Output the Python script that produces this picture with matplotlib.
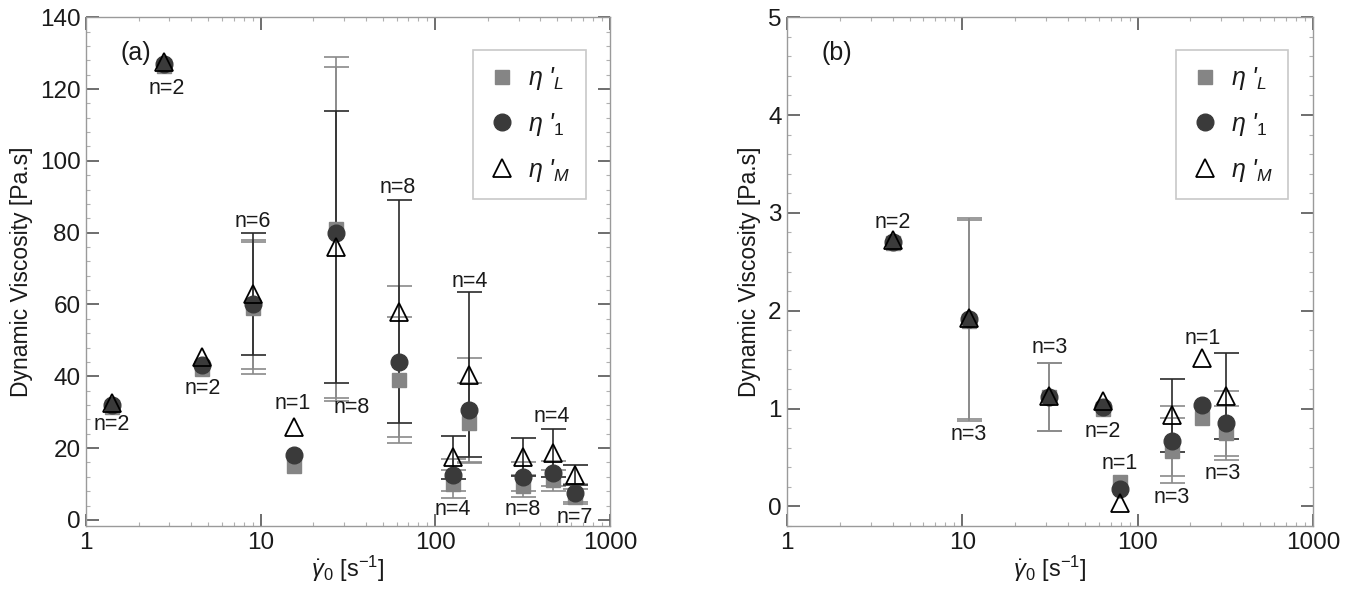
import numpy as np
import matplotlib
matplotlib.use("Agg")
import matplotlib.pyplot as plt
from matplotlib.ticker import LogLocator, MultipleLocator, FixedLocator, NullFormatter

plt.rcParams["font.family"] = ["Liberation Sans", "DejaVu Sans"]
plt.rcParams["mathtext.fontset"] = "custom"
plt.rcParams["mathtext.rm"] = "Liberation Sans"
plt.rcParams["mathtext.it"] = "Liberation Sans:italic"
plt.rcParams["mathtext.bf"] = "Liberation Sans:bold"

# ---- Panel (a): shear rate [1/s] and dynamic viscosities [Pa.s] ----
rate_a = [1.4, 2.8, 4.6, 9.0, 15.5, 27, 62, 126, 156, 318, 470, 630]
etaL_a = [31.5, 126.5, 42, 59, 15, 81, 39, 10, 27, 9.5, 11, 6.5]
etaL_err_a = [0, 0, 0, 18.5, 0, 48, 17.5, 4, 11, 3, 3, 2]
eta1_a = [32, 127, 43, 60, 18, 80, 44, 12.5, 30.5, 12, 13, 7.5]
eta1_err_a = [0, 0, 0, 18, 0, 46, 21, 4.5, 14.6, 4, 3.5, 2.5]
etaM_a = [32.5, 127.5, 45.5, 63, 26, 76, 58, 17.5, 40.4, 17.5, 18.6, 12.5]
etaM_err_a = [0, 0, 0, 17, 0, 38, 31, 6, 23, 5.3, 6.7, 2.8]
n_a = [2, 2, 2, 6, 1, 8, 8, 4, 4, 8, 4, 7]
# where each "n=" label sits (shear rate, viscosity)
nlab_pos_a = [(1.41, 26.7), (2.9, 120.2), (4.67, 36.7), (9.0, 83.0),
              (15.3, 32.3), (33.3, 31.2), (61, 92.7), (126, 2.8),
              (158, 66.3), (318, 2.8), (465, 28.7), (630, 0.8)]

# ---- Panel (b) ----
rate_b = [4.0, 10.9, 31, 63, 79, 157, 234, 318]
etaL_b = [2.69, 1.90, 1.12, 1.00, 0.25, 0.57, 0.90, 0.75]
etaL_err_b = [0, 1.03, 0.35, 0, 0, 0.33, 0, 0.28]
eta1_b = [2.70, 1.92, 1.12, 1.02, 0.18, 0.67, 1.04, 0.85]
eta1_err_b = [0, 1.03, 0.35, 0, 0, 0.36, 0, 0.33]
etaM_b = [2.72, 1.93, 1.13, 1.08, 0.04, 0.93, 1.52, 1.13]
etaM_err_b = [0, 0, 0, 0, 0, 0.37, 0, 0.44]
n_b = [2, 3, 3, 2, 1, 3, 1, 3]
nlab_pos_b = [(4.03, 2.90), (10.9, 0.74), (31.5, 1.62), (63.3, 0.77),
              (78.6, 0.44), (157, 0.09), (234, 1.72), (306, 0.34)]

GREY_BAR = "#8a8a8a"
DARK_BAR = "#2a2a2a"
SQ_COLOR = "#858585"
CIRC_COLOR = "#3a3a3a"
SPINE = "#9a9a9a"
TEXT = "#1a1a1a"


def draw_panel(ax, x, L, Le, one, onee, M, Me, ns, npos, ylim, ymaj, ymin, tag):
    x = np.asarray(x, float)

    def errs(e):
        e = np.asarray(e, float)
        return np.where(e > 0, e, np.nan)

    ax.errorbar(x, L, yerr=errs(Le), fmt="none", ecolor=GREY_BAR,
                elinewidth=1.2, capsize=9, capthick=1.2, zorder=2)
    ax.errorbar(x, one, yerr=errs(onee), fmt="none", ecolor=GREY_BAR,
                elinewidth=1.2, capsize=9, capthick=1.2, zorder=2)
    ax.errorbar(x, M, yerr=errs(Me), fmt="none", ecolor=DARK_BAR,
                elinewidth=1.2, capsize=9, capthick=1.2, zorder=2)

    ax.plot(x, L, ls="none", marker="s", ms=9.5, mfc=SQ_COLOR, mec=SQ_COLOR,
            label=r"$\eta$ '$_L$", zorder=3)
    ax.plot(x, one, ls="none", marker="o", ms=12, mfc=CIRC_COLOR,
            mec=CIRC_COLOR, label=r"$\eta$ '$_1$", zorder=4)
    ax.plot(x, M, ls="none", marker="^", ms=13.5, mfc="none", mec="black",
            mew=1.3, label=r"$\eta$ '$_M$", zorder=5)

    for n, (px, py) in zip(ns, npos):
        ax.text(px, py, f"n={n}", ha="center", va="center", fontsize=15.5,
                color=TEXT, zorder=6)

    ax.set_xscale("log")
    ax.set_xlim(1, 1000)
    ax.set_ylim(*ylim)
    ax.xaxis.set_major_locator(FixedLocator([1, 10, 100, 1000]))
    ax.xaxis.set_major_formatter(plt.FuncFormatter(lambda v, p: f"{v:g}"))
    ax.xaxis.set_minor_locator(LogLocator(base=10, subs=np.arange(2, 10)))
    ax.xaxis.set_minor_formatter(NullFormatter())
    ax.yaxis.set_major_locator(MultipleLocator(ymaj))
    ax.yaxis.set_minor_locator(MultipleLocator(ymin))

    for s in ax.spines.values():
        s.set_color(SPINE)
        s.set_linewidth(1.0)
    ax.tick_params(which="major", direction="in", length=9, width=1.2,
                   color="#555555", labelsize=17.5, top=True, right=True,
                   pad=4, labelcolor=TEXT)
    ax.tick_params(which="minor", direction="in", length=3, width=0.8,
                   color="#b0b0b0", top=True, right=True)

    ax.set_xlabel(r"$\dot{\gamma}_0$ [s$^{-1}$]", fontsize=17, labelpad=0,
                  color=TEXT)
    ax.set_ylabel("Dynamic Viscosity [Pa.s]", fontsize=16.5, labelpad=5,
                  color=TEXT)
    ax.text(0.065, 0.93, tag, transform=ax.transAxes, fontsize=18,
            ha="left", va="center", color=TEXT)

    leg = ax.legend(loc="upper left", bbox_to_anchor=(0.739, 0.935),
                    frameon=True, fancybox=False, fontsize=18,
                    labelspacing=0.75, handletextpad=0.5, borderpad=0.6,
                    handlelength=1.1, borderaxespad=0)
    leg.get_frame().set_edgecolor("#bbbbbb")
    leg.get_frame().set_linewidth(1.2)
    for t in leg.get_texts():
        t.set_fontstyle("italic")
        t.set_color(TEXT)


fig = plt.figure(figsize=(13.57, 5.93), dpi=100)
ax_a = fig.add_axes([0.0634, 0.113, 0.386, 0.858])
ax_b = fig.add_axes([0.580, 0.113, 0.3876, 0.858])

draw_panel(ax_a, rate_a, etaL_a, etaL_err_a, eta1_a, eta1_err_a,
           etaM_a, etaM_err_a, n_a, nlab_pos_a, (-1.7, 140), 20, 4, "(a)")
draw_panel(ax_b, rate_b, etaL_b, etaL_err_b, eta1_b, eta1_err_b,
           etaM_b, etaM_err_b, n_b, nlab_pos_b, (-0.2, 5), 1, 0.2, "(b)")

fig.savefig("out.png", dpi=100, facecolor="white")
